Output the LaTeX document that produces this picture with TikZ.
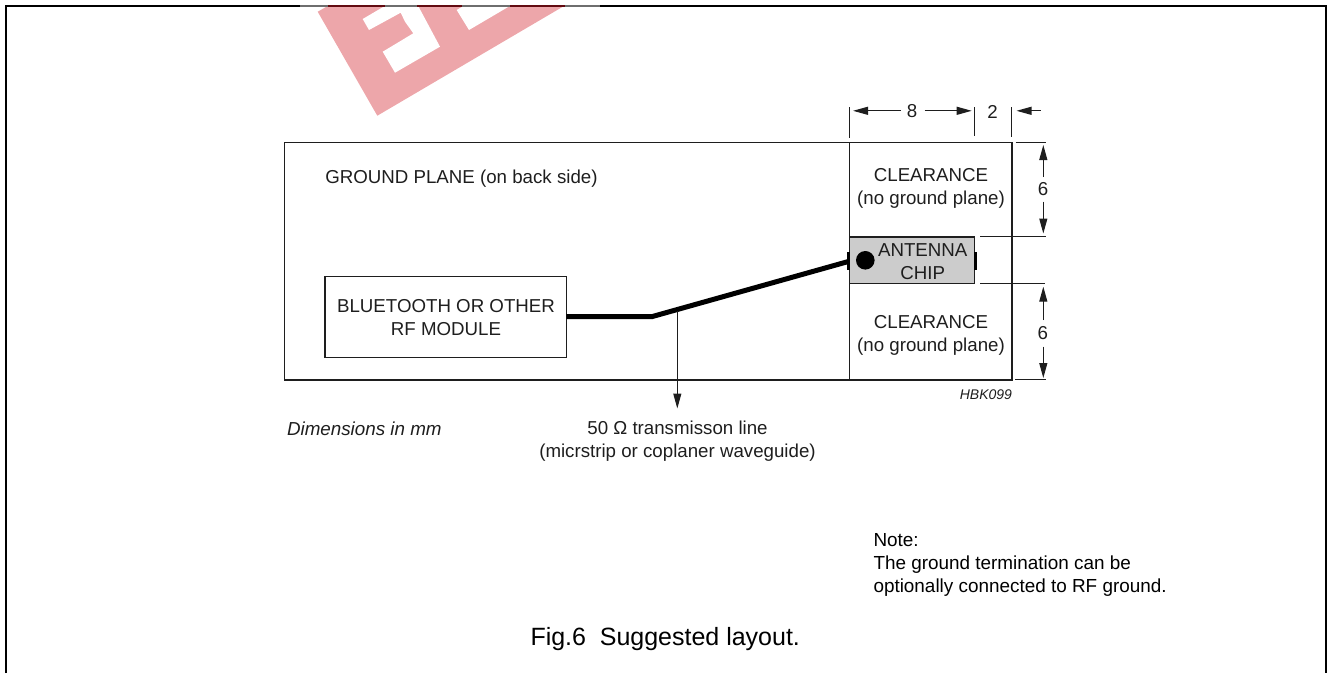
\documentclass[tikz,border=0pt]{standalone}
\usepackage{fontspec}
\setmainfont{Liberation Sans}
\usetikzlibrary{arrows.meta}
\definecolor{wm}{HTML}{EDA6AA}
\definecolor{ink}{HTML}{1E1E1E}
\definecolor{chipgray}{HTML}{CCCCCC}
\definecolor{fadedline}{HTML}{6E6E6E}
\definecolor{fadedred}{HTML}{620A10}
\tikzset{
  x=1pt,y=-1pt,
  lbl/.style={inner sep=0pt,outer sep=0pt,align=center,text=ink,font=\fontsize{18.7}{23}\selectfont},
  lblleft/.style={lbl,align=left},
  box/.style={draw=ink,line width=1.3pt,inner sep=0pt,outer sep=0pt},
  thin line/.style={draw=ink,line width=1.1pt},
  dim/.style={draw=ink,line width=1.1pt,-{Triangle[length=15pt,width=8pt]}},
  trace/.style={draw=black,line width=5pt,line join=miter},
  frame/.style={draw=black,line width=2pt}
}
\begin{document}
\begin{tikzpicture}
\useasboundingbox (0,0) rectangle (1329,673);
% watermark
\begin{scope}
\clip (0,6) rectangle (1329,200);
\fill[wm] (317.7,11.7) -- (377.3,115.7) -- (565.7,5) -- (563,0) -- (338.3,0) -- cycle;
\fill[white] (362.7,19) -- (369,30) -- (400.7,12.7) -- (405,21.7) -- (413.3,33.3) -- (382.7,51.7) -- (395,72.7) -- (440,46.7) -- (415,0) -- (395,0) -- cycle;
\fill[white] (456.7,10) -- (469,30) -- (520,0) -- (473.3,0) -- cycle;
\end{scope}
% page frame
\coordinate (fbl) at (6,673);
\coordinate (ftl) at (6,6);
\coordinate (fg1) at (300,6);
\coordinate (fg2) at (600,6);
\coordinate (ftr) at (1326,6);
\coordinate (fbr) at (1326,673);
\draw[frame] (fbl) -- (ftl) -- (fg1);
\draw[frame] (fg2) -- (ftr) -- (fbr);
\draw[draw=fadedline,line width=1.8pt] (fg1) -- (fg2);
\draw[draw=fadedred,line width=1.8pt] (328,6) -- (385,6) (417,6) -- (462,6) (510,6) -- (565,6);
% boards
\node[box,minimum width=564.9pt,minimum height=237.8pt,anchor=north west] (plane) at (284.8,142.2) {};
\node[box,minimum width=162.3pt,minimum height=237.8pt,anchor=north west] (clear) at (849.7,142.2) {};
\node[box,minimum width=241.3pt,minimum height=80.6pt,anchor=north west,align=center] (module) at (325,276.7) {};
\node[lbl] (modtxt) at (446,317.3) {BLUETOOTH OR OTHER\\RF MODULE};
\node[lblleft,anchor=base west] (gp) at (325.3,183) {GROUND PLANE (on back side)};
\node[lbl] (c1) at (931,188.5) {CLEARANCE\\(no ground plane)};
\node[lbl] (c2) at (931,335.5) {CLEARANCE\\(no ground plane)};
% chip
\node[box,fill=chipgray,minimum width=125pt,minimum height=46.8pt,anchor=north west] (chip) at (849.7,237) {};
\fill[black] (846.6,251.7) rectangle (850.2,270);
\fill[black] (973.8,252) rectangle (977.4,270);
\node[circle,fill=black,minimum size=18.6pt,inner sep=0pt] (dot) at (865.3,260.3) {};
\node[lbl] (chiptxt) at (922.7,262) {ANTENNA\\CHIP};
% trace
\coordinate (tbend) at (651.7,316.7);
\coordinate (tend) at (848.3,261.5);
\draw[trace] (module.east |- tbend) -- (tbend) -- (tend);
\coordinate (ta) at (677.3,311);
\coordinate (tb) at (677.3,408.5);
\draw[dim] (ta) -- (tb);
\node[lbl] (tl) at (677.5,441.5) {50 Ω transmisson line\\(micrstrip or coplaner waveguide)};
% dimensions top
\coordinate (v1a) at (849.7,107); \coordinate (v1b) at (849.7,137.7);
\coordinate (v2a) at (974.3,107); \coordinate (v2b) at (974.3,136);
\coordinate (v3a) at (1011.7,107); \coordinate (v3b) at (1011.7,137);
\draw[thin line] (v1a) -- (v1b);
\draw[thin line] (v2a) -- (v2b);
\draw[thin line] (v3a) -- (v3b);
\node[lbl] (d8) at (912,111.5) {8};
\node[lbl] (d2) at (992.5,111.5) {2};
\coordinate (a1) at (853,110.8); \coordinate (a2) at (901,110.8);
\coordinate (a3) at (924.5,110.8); \coordinate (a4) at (971.7,110.8);
\coordinate (a5) at (1040.7,110.8); \coordinate (a6) at (1016.5,110.8);
\draw[dim] (a2) -- (a1);
\draw[dim] (a3) -- (a4);
\draw[dim] (a5) -- (a6);
% dimensions right
\coordinate (h1a) at (1015.7,142.2); \coordinate (h1b) at (1046,142.2);
\coordinate (h2a) at (980,236.8); \coordinate (h2b) at (1046,236.8);
\coordinate (h3a) at (980,283.4); \coordinate (h3b) at (1045,283.4);
\coordinate (h4a) at (1015,379.8); \coordinate (h4b) at (1046,379.8);
\draw[thin line] (h1a) -- (h1b);
\draw[thin line] (h2a) -- (h2b);
\draw[thin line] (h3a) -- (h3b);
\draw[thin line] (h4a) -- (h4b);
\node[lbl] (s1) at (1043,189.5) {6};
\node[lbl] (s2) at (1042.7,333) {6};
\coordinate (b1) at (1043.3,177); \coordinate (b2) at (1043.3,145);
\coordinate (b3) at (1043.3,201.7); \coordinate (b4) at (1043.3,233.5);
\coordinate (b5) at (1043.3,320); \coordinate (b6) at (1043.3,286.7);
\coordinate (b7) at (1043.3,346.7); \coordinate (b8) at (1043.3,378);
\draw[dim] (b1) -- (b2);
\draw[dim] (b3) -- (b4);
\draw[dim] (b5) -- (b6);
\draw[dim] (b7) -- (b8);
% captions
\node[lbl,anchor=base east,font=\fontsize{14}{16}\selectfont\itshape] (hbk) at (1012,399) {HBK099};
\node[lbl,anchor=base west,font=\fontsize{18.8}{23}\selectfont\itshape] (dimm) at (287,435) {Dimensions in mm};
\node[lblleft,anchor=north west,text=black,font=\fontsize{18.9}{23}\selectfont] (note) at (873.5,533) {Note:\\The ground termination can be\\optionally connected to RF ground.};
\node[lbl,anchor=base west,text=black,font=\fontsize{25}{30}\selectfont] (fig) at (530.5,645) {Fig.6\hspace{0.55em}Suggested layout.};
\end{tikzpicture}
\end{document}
